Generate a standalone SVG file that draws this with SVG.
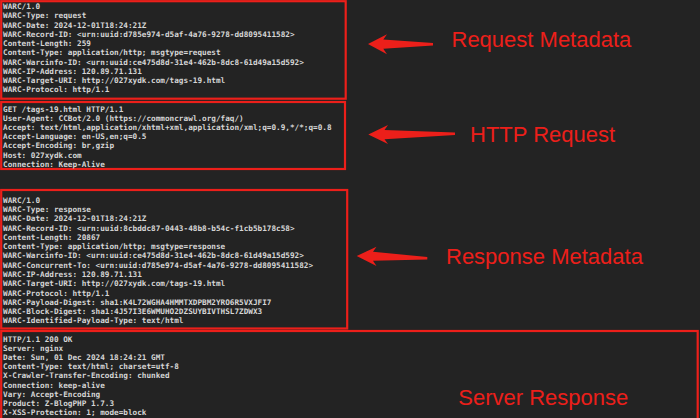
<svg xmlns="http://www.w3.org/2000/svg" width="700" height="418" viewBox="0 0 700 418">
<style>
.bg{fill:#232323}
.box{fill:none;stroke:#ec1f1a;stroke-width:2.2}
.mono{font-family:"DejaVu Sans Mono","Liberation Mono",monospace;font-size:7.7px;font-weight:bold;fill:#d6d6d6}
.lbl{font-family:"Liberation Sans",Arial,sans-serif;font-size:22px;fill:#ec1f1a}
.arrow{fill:#ec1f1a}
</style>
<rect class="bg" x="0" y="0" width="700" height="418"/>

<g id="request-metadata">
<rect class="box" x="1.2" y="1.2" width="344.5" height="97.5"/>
<text class="mono">
<tspan x="3" y="9">WARC/1.0</tspan>
<tspan x="3" y="18.3">WARC-Type: request</tspan>
<tspan x="3" y="27.5">WARC-Date: 2024-12-01T18:24:21Z</tspan>
<tspan x="3" y="36.8">WARC-Record-ID: &lt;urn:uuid:d785e974-d5af-4a76-9278-dd8095411582&gt;</tspan>
<tspan x="3" y="46">Content-Length: 259</tspan>
<tspan x="3" y="55.3">Content-Type: application/http; msgtype=request</tspan>
<tspan x="3" y="64.5">WARC-Warcinfo-ID: &lt;urn:uuid:ce475d8d-31e4-462b-8dc8-61d49a15d592&gt;</tspan>
<tspan x="3" y="73.8">WARC-IP-Address: 120.89.71.131</tspan>
<tspan x="3" y="83">WARC-Target-URI: http://027xydk.com/tags-19.html</tspan>
<tspan x="3" y="92.3">WARC-Protocol: http/1.1</tspan>
</text>
<text class="lbl" x="451.5" y="47.3">Request Metadata</text>
</g>

<g id="http-request">
<rect class="box" x="1.2" y="102" width="343.8" height="67"/>
<text class="mono">
<tspan x="3" y="111.6">GET /tags-19.html HTTP/1.1</tspan>
<tspan x="3" y="120.8">User-Agent: CCBot/2.0 (https://commoncrawl.org/faq/)</tspan>
<tspan x="3" y="130">Accept: text/html,application/xhtml+xml,application/xml;q=0.9,*/*;q=0.8</tspan>
<tspan x="3" y="139.2">Accept-Language: en-US,en;q=0.5</tspan>
<tspan x="3" y="148.4">Accept-Encoding: br,gzip</tspan>
<tspan x="3" y="157.6">Host: 027xydk.com</tspan>
<tspan x="3" y="166.8">Connection: Keep-Alive</tspan>
</text>
<text class="lbl" x="470" y="141.7">HTTP Request</text>
</g>

<g id="response-metadata">
<rect class="box" x="1.2" y="190" width="346" height="138.5"/>
<text class="mono">
<tspan x="3" y="202.7">WARC/1.0</tspan>
<tspan x="3" y="212">WARC-Type: response</tspan>
<tspan x="3" y="221.3">WARC-Date: 2024-12-01T18:24:21Z</tspan>
<tspan x="3" y="230.5">WARC-Record-ID: &lt;urn:uuid:8cbddc87-0443-48b8-b54c-f1cb5b178c58&gt;</tspan>
<tspan x="3" y="239.8">Content-Length: 20867</tspan>
<tspan x="3" y="249.1">Content-Type: application/http; msgtype=response</tspan>
<tspan x="3" y="258.4">WARC-Warcinfo-ID: &lt;urn:uuid:ce475d8d-31e4-462b-8dc8-61d49a15d592&gt;</tspan>
<tspan x="3" y="267.7">WARC-Concurrent-To: &lt;urn:uuid:d785e974-d5af-4a76-9278-dd8095411582&gt;</tspan>
<tspan x="3" y="276.9">WARC-IP-Address: 120.89.71.131</tspan>
<tspan x="3" y="286.2">WARC-Target-URI: http://027xydk.com/tags-19.html</tspan>
<tspan x="3" y="295.5">WARC-Protocol: http/1.1</tspan>
<tspan x="3" y="304.8">WARC-Payload-Digest: sha1:K4L72WGHA4HMMTXDPBM2YRO6R5VXJFI7</tspan>
<tspan x="3" y="314">WARC-Block-Digest: sha1:4J57I3E6WMUHO2DZSUYBIVTHSL7ZDWX3</tspan>
<tspan x="3" y="323.3">WARC-Identified-Payload-Type: text/html</tspan>
</text>
<text class="lbl" x="446" y="264">Response Metadata</text>
</g>

<g id="server-response">
<rect class="box" x="1.2" y="331" width="696.5" height="100"/>
<text class="mono">
<tspan x="3" y="341.7">HTTP/1.1 200 OK</tspan>
<tspan x="3" y="350.9">Server: nginx</tspan>
<tspan x="3" y="360">Date: Sun, 01 Dec 2024 18:24:21 GMT</tspan>
<tspan x="3" y="369.2">Content-Type: text/html; charset=utf-8</tspan>
<tspan x="3" y="378.4">X-Crawler-Transfer-Encoding: chunked</tspan>
<tspan x="3" y="387.5">Connection: keep-alive</tspan>
<tspan x="3" y="396.7">Vary: Accept-Encoding</tspan>
<tspan x="3" y="405.9">Product: Z-BlogPHP 1.7.3</tspan>
<tspan x="3" y="415">X-XSS-Protection: 1; mode=block</tspan>
</text>
<text class="lbl" x="458.3" y="405">Server Response</text>
</g>

<g id="connectors">
<path class="arrow" d="M368,44 L387,34.3 L383.3,39.5 L433,43 L433,45.5 L383.3,48.8 L387,54.3 Z"/>
<path class="arrow" d="M368.3,134.5 L388,125 L384.5,130 L455,132.5 L455,135 L384.5,139.2 L388,144 Z"/>
<path class="arrow" d="M356.7,256 L376.5,246.7 L373,251.8 L427.3,257 L427.3,259.5 L373,260.8 L376.5,266 Z"/>
</g>
</svg>
